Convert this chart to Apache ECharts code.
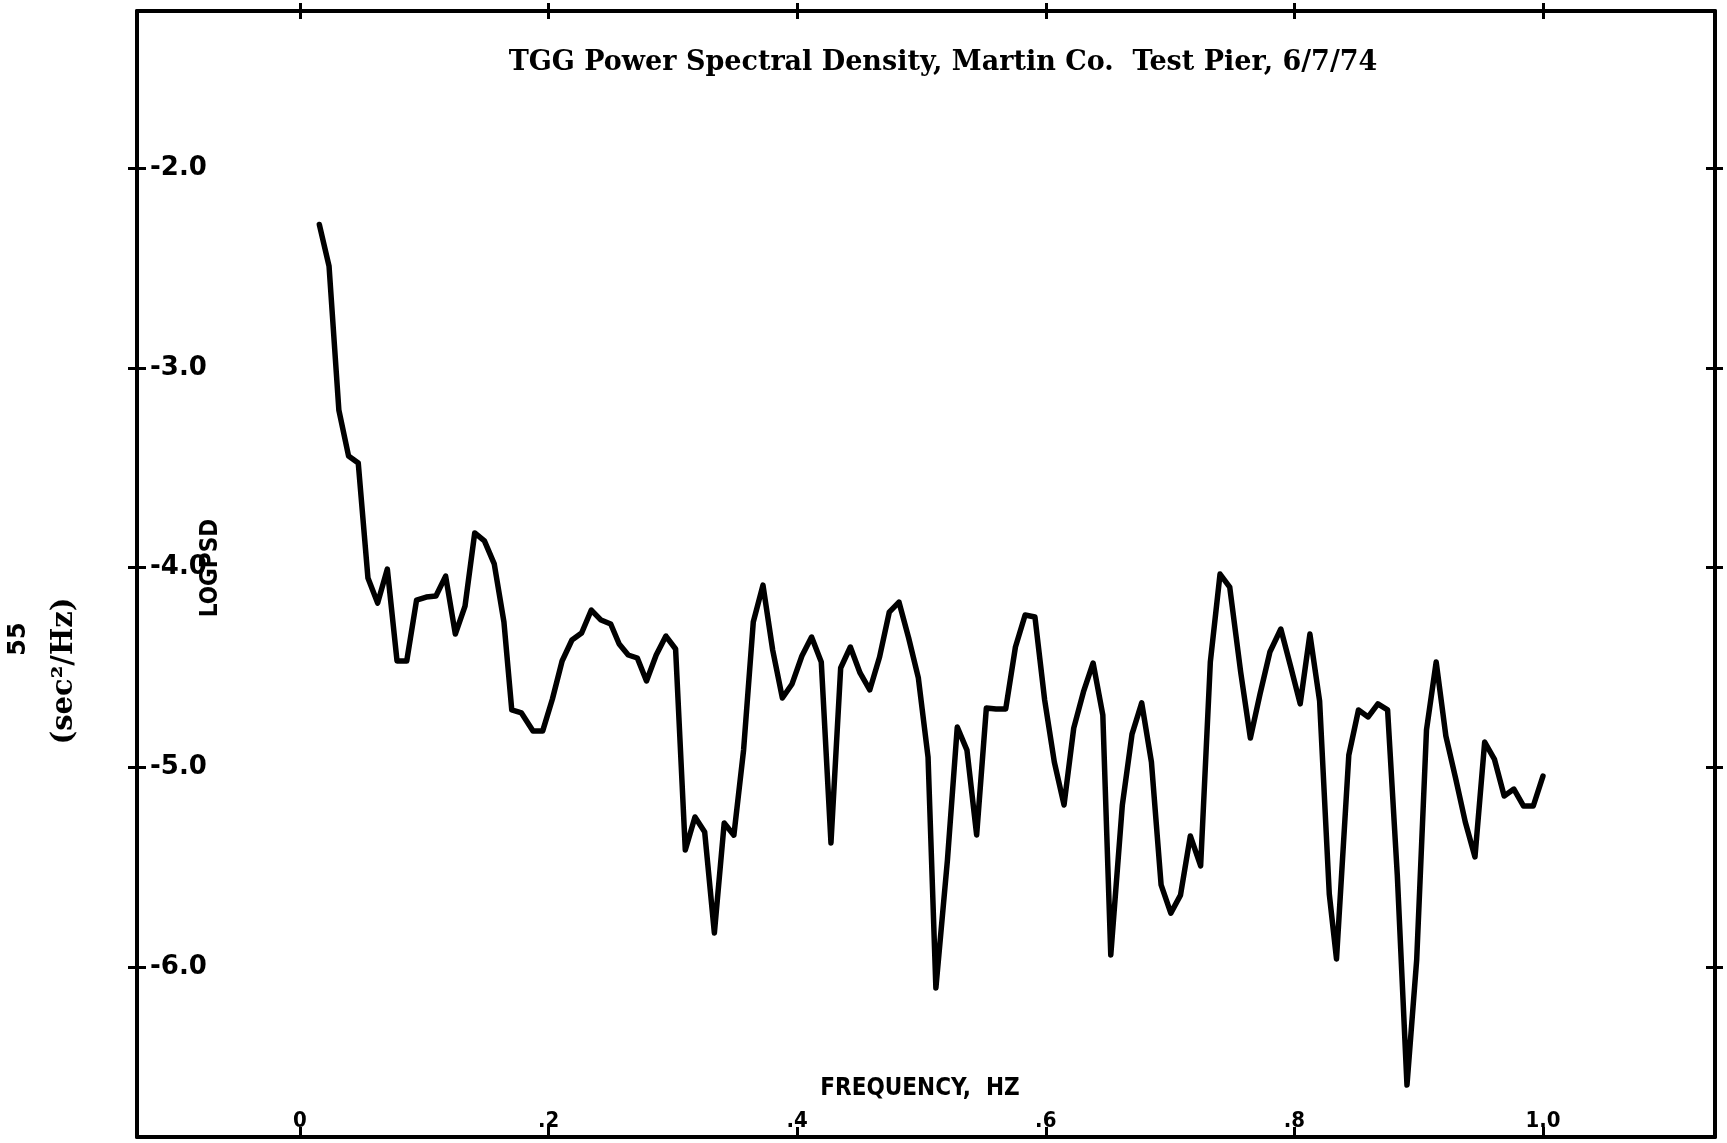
<!DOCTYPE html>
<html><head><meta charset="utf-8">
<script src="https://cdn.jsdelivr.net/npm/echarts@6/dist/echarts.min.js"></script>
<style>html,body{margin:0;padding:0;background:#fff}#c{width:1727px;height:1143px}</style>
</head><body><div id="c"></div>
<script>
// Frequency (Hz) of each plotted estimate
const frequency = [
  0.0156,0.0234,0.0313,0.0391,0.0469,0.0547,0.0625,0.0703,0.0781,0.0859,
  0.0938,0.1016,0.1094,0.1172,0.1250,0.1328,0.1406,0.1484,0.1563,0.1641,
  0.1704,0.1782,0.1875,0.1953,0.2031,0.2109,0.2188,0.2266,0.2344,0.2422,
  0.2500,0.2568,0.2641,0.2714,0.2788,0.2866,0.2944,0.3022,0.3100,0.3178,
  0.3256,0.3334,0.3413,0.3491,0.3569,0.3647,0.3725,0.3803,0.3881,0.3959,
  0.4038,0.4116,0.4194,0.4272,0.4350,0.4428,0.4506,0.4584,0.4663,0.4741,
  0.4819,0.4897,0.4975,0.5053,0.5116,0.5209,0.5288,0.5366,0.5444,0.5522,
  0.5600,0.5678,0.5756,0.5834,0.5913,0.5991,0.6069,0.6147,0.6225,0.6303,
  0.6381,0.6459,0.6523,0.6616,0.6694,0.6772,0.6850,0.6928,0.7006,0.7084,
  0.7163,0.7246,0.7324,0.7402,0.7480,0.7568,0.7646,0.7724,0.7803,0.7891,
  0.7969,0.8047,0.8125,0.8203,0.8281,0.8339,0.8438,0.8516,0.8594,0.8672,
  0.8750,0.8828,0.8906,0.8984,0.9063,0.9141,0.9219,0.9297,0.9375,0.9453,
  0.9531,0.9609,0.9688,0.9766,0.9844,0.9922,1.0000
];
// LOG PSD values
const logPsd = [
  -2.283,-2.491,-3.212,-3.442,-3.477,-4.053,-4.178,-4.008,-4.468,-4.468,
  -4.163,-4.148,-4.143,-4.043,-4.333,-4.193,-3.827,-3.867,-3.982,-4.273,
  -4.713,-4.728,-4.818,-4.818,-4.658,-4.468,-4.363,-4.328,-4.213,-4.263,
  -4.283,-4.383,-4.438,-4.453,-4.568,-4.438,-4.343,-4.408,-5.414,-5.249,
  -5.324,-5.830,-5.279,-5.340,-4.914,-4.273,-4.088,-4.413,-4.653,-4.583,
  -4.443,-4.348,-4.473,-5.379,-4.503,-4.398,-4.528,-4.613,-4.448,-4.223,
  -4.173,-4.353,-4.553,-4.949,-6.105,-5.464,-4.799,-4.914,-5.339,-4.703,
  -4.708,-4.708,-4.398,-4.238,-4.248,-4.663,-4.974,-5.189,-4.804,-4.623,
  -4.478,-4.738,-5.940,-5.189,-4.834,-4.678,-4.974,-5.589,-5.730,-5.640,
  -5.344,-5.494,-4.473,-4.033,-4.098,-4.523,-4.854,-4.633,-4.423,-4.308,
  -4.493,-4.683,-4.333,-4.668,-5.635,-5.960,-4.939,-4.713,-4.748,-4.683,
  -4.713,-5.539,-6.591,-5.965,-4.813,-4.473,-4.844,-5.054,-5.274,-5.449,
  -4.874,-4.959,-5.144,-5.109,-5.194,-5.194,-5.044
];
const xTicks = [0, 0.2, 0.4, 0.6, 0.8, 1.0];
const xTickLabels = ['0', '.2', '.4', '.6', '.8', '1.0'];
const yTicks = [-2, -3, -4, -5, -6];
const yTickLabels = ['-2.0', '-3.0', '-4.0', '-5.0', '-6.0'];
const titleText = 'TGG Power Spectral Density, Martin Co.  Test Pier, 6/7/74';
const xName = 'FREQUENCY,  HZ';
const yName = 'LOGPSD';
const unitText = '(sec\u00B2/Hz)';
const pageText = '55';

const X_MIN = -0.1311, X_MAX = 1.1384, Y_MIN = -6.851, Y_MAX = -1.214;
const labelFor = (ticks, labels) => v => {
  const i = ticks.findIndex(t => Math.abs(t - v) < 1e-6);
  return i >= 0 ? labels[i] : '';
};
const black = '#000';
const lineAx = { show: true, onZero: false, lineStyle: { color: black, width: 4 } };
const noLine = { show: false, onZero: false };
function xAx(pos, inside, showLine, len, withLabel) {
  return {
    type: 'value', min: X_MIN, max: X_MAX, position: pos,
    axisLine: showLine ? lineAx : noLine,
    axisTick: { show: true, inside: inside, length: len, customValues: xTicks, lineStyle: { color: black, width: 3 } },
    axisLabel: withLabel ? {
      show: true, inside: true, margin: 5, customValues: xTicks,
      formatter: labelFor(xTicks, xTickLabels),
      color: black, fontFamily: 'DejaVu Sans Condensed', fontWeight: 'bold', fontSize: 22
    } : { show: false },
    splitLine: { show: false }
  };
}
function yAx(pos, inside, showLine, len, withLabel) {
  return {
    type: 'value', min: Y_MIN, max: Y_MAX, position: pos,
    axisLine: showLine ? lineAx : noLine,
    axisTick: { show: true, inside: inside, length: len, customValues: yTicks, lineStyle: { color: black, width: 3 } },
    axisLabel: withLabel ? {
      show: true, inside: true, margin: 13, customValues: yTicks,
      formatter: labelFor(yTicks, yTickLabels),
      color: black, fontFamily: 'DejaVu Sans', fontWeight: 'bold', fontSize: 26
    } : { show: false },
    splitLine: { show: false }
  };
}

const chart = echarts.init(document.getElementById('c'), null, { renderer: 'canvas' });
chart.setOption({
  animation: false,
  backgroundColor: '#fff',
  grid: { left: 137, right: 12, top: 11, bottom: 6, containLabel: false },
  xAxis: [
    xAx('bottom', true, true, 10, true),
    xAx('top', true, true, 8, false),
    xAx('top', false, false, 8, false)
  ],
  yAxis: [
    yAx('left', true, true, 9, true),
    yAx('left', false, false, 9, false),
    yAx('right', true, true, 9, false),
    yAx('right', false, false, 8, false)
  ],
  series: [{
    type: 'line',
    xAxisIndex: 0, yAxisIndex: 0,
    data: frequency.map((f, i) => [f, logPsd[i]]),
    showSymbol: false,
    smooth: false,
    lineStyle: { color: black, width: 5.5, cap: 'round', join: 'round' }
  }],
  graphic: [
    { type: 'text', x: 943, y: 63, style: { text: titleText, fill: black, font: 'bold 27px "DejaVu Serif"', align: 'center', verticalAlign: 'middle' } },
    { type: 'text', x: 920, y: 1089, style: { text: xName, fill: black, font: 'bold 24px "DejaVu Sans Condensed"', align: 'center', verticalAlign: 'middle' } },
    { type: 'text', x: 211, y: 568, rotation: Math.PI / 2, style: { text: yName, fill: black, font: 'bold 24px "DejaVu Sans Condensed"', align: 'center', verticalAlign: 'middle' } },
    { type: 'text', x: 64, y: 671, rotation: Math.PI / 2, style: { text: unitText, fill: black, font: 'bold 29px "DejaVu Serif"', align: 'center', verticalAlign: 'middle' } },
    { type: 'text', x: 19, y: 639, rotation: Math.PI / 2, style: { text: pageText, fill: black, font: 'bold 24px "DejaVu Sans"', align: 'center', verticalAlign: 'middle' } }
  ]
});
</script>
</body></html>
